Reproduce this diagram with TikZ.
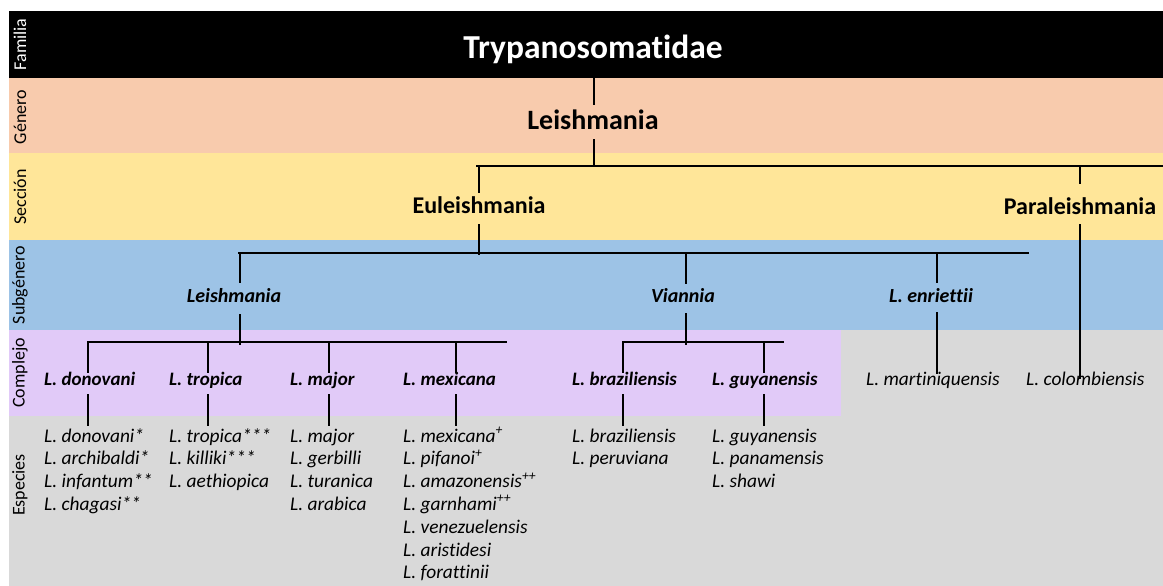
\documentclass[tikz,border=0pt]{standalone}
\usepackage{fontspec}
\setmainfont{Carlito}[Ligatures=NoCommon]
\definecolor{genc}{HTML}{F8CBAD}
\definecolor{secc}{HTML}{FFE699}
\definecolor{subc}{HTML}{9DC3E6}
\definecolor{comc}{HTML}{E1CAF8}
\definecolor{espc}{HTML}{D9D9D9}
\begin{document}
\begin{tikzpicture}[x=1pt,y=-1pt,
  tline/.style={line width=1.6pt, line cap=rect},
  side/.style={rotate=90, inner sep=0, font=\fontsize{18}{20}\selectfont},
  fam/.style={anchor=base, inner sep=0, text=white, font=\fontsize{33.5}{36}\selectfont\bfseries},
  gen/.style={anchor=base, inner sep=0, font=\fontsize{28}{32}\selectfont\bfseries},
  sec/.style={anchor=base, inner sep=0, font=\fontsize{24}{28}\selectfont\bfseries},
  sub/.style={anchor=base, inner sep=0, font=\fontsize{20}{24}\selectfont\bfseries\itshape},
  cx/.style={anchor=base west, inner sep=0, font=\fontsize{19}{22}\selectfont\bfseries\itshape},
  sp/.style={anchor=base west, inner sep=0, font=\fontsize{19.4}{22}\selectfont\itshape}]
\useasboundingbox (0,0) rectangle (1163,586);
\fill[white] (0,0) rectangle (1163,586);
% bands
\fill[black] (9,11) rectangle (1163,78);
\fill[genc] (9,78) rectangle (1163,153);
\fill[secc] (9,153) rectangle (1163,240);
\fill[subc] (9,240) rectangle (1163,330);
\fill[espc] (9,330) rectangle (1163,586);
\fill[comc] (9,330) rectangle (841,416);
% side labels
\node[side, text=white] (lfam) at (20,44.5) {Familia};
\node[side] (lgen) at (20,117) {Género};
\node[side] (lsec) at (20,197) {Sección};
\node[side] (lsub) at (20,285) {Subgénero};
\node[side] (lcom) at (20,373) {Complejo};
\node[side] (lesp) at (20,485) {Especies};
% taxa
\node[fam] (tryp) at (593,59) {Trypanosomatidae};
\node[gen] (leish) at (593,129) {Leishmania};
\node[sec] (eu) at (479,213) {Euleishmania};
\node[sec] (para) at (1080,214) {Paraleishmania};
\node[sub] (sleish) at (234,302) {Leishmania};
\node[sub] (vian) at (683,302) {Viannia};
\node[sub] (enr) at (931,302) {L. enriettii};
\node[cx] (cdon) at (44,385) {L. donovani};
\node[cx] (ctro) at (169,385) {L. tropica};
\node[cx] (cmaj) at (290,385) {L. major};
\node[cx] (cmex) at (403,385) {L. mexicana};
\node[cx] (cbra) at (572,385) {L. braziliensis};
\node[cx] (cguy) at (712,385) {L. guyanensis};
\node[sp] (mart) at (866,385) {L. martiniquensis};
\node[sp] (colo) at (1026,385) {L. colombiensis};
% species lists
\foreach \t [count=\i] in {L. donovani*, L. archibaldi*, L. infantum**, L. chagasi**}
  \node[sp] (don\i) at (44,{442+22.8*(\i-1)}) {\t};
\foreach \t [count=\i] in {L. tropica***, L. killiki***, L. aethiopica}
  \node[sp] (tro\i) at (169,{442+22.8*(\i-1)}) {\t};
\foreach \t [count=\i] in {L. major, L. gerbilli, L. turanica, L. arabica}
  \node[sp] (maj\i) at (290,{442+22.8*(\i-1)}) {\t};
\foreach \t [count=\i] in {L. mexicana\textsuperscript{+}, L. pifanoi\textsuperscript{+}, L. amazonensis\textsuperscript{++}, L. garnhami\textsuperscript{++}, L. venezuelensis, L. aristidesi, L. forattinii}
  \node[sp] (mex\i) at (403,{442+22.8*(\i-1)}) {\t};
\foreach \t [count=\i] in {L. braziliensis, L. peruviana}
  \node[sp] (bra\i) at (572,{442+22.8*(\i-1)}) {\t};
\foreach \t [count=\i] in {L. guyanensis, L. panamensis, L. shawi}
  \node[sp] (guy\i) at (712,{442+22.8*(\i-1)}) {\t};
% junction coordinates
\coordinate (g1) at (594,78);   \coordinate (g2) at (594,104);
\coordinate (g3) at (594,140);  \coordinate (g4) at (594,166);
\coordinate (sbL) at (477,166); \coordinate (sbR) at (1163,166);
\coordinate (e1) at (479,166);  \coordinate (e2) at (479,192);
\coordinate (e3) at (479,225);  \coordinate (e4) at (479,254);
\coordinate (p1) at (1080,166); \coordinate (p2) at (1080,183);
\coordinate (p3) at (1080,225); \coordinate (p4) at (1080,378);
\coordinate (ubL) at (239,253); \coordinate (ubR) at (1028,253);
\coordinate (l1) at (240,253);  \coordinate (l2) at (240,282);
\coordinate (l3) at (240,315);  \coordinate (l4) at (240,344);
\coordinate (v1) at (686,253);  \coordinate (v2) at (686,283);
\coordinate (v3) at (686,314);  \coordinate (v4) at (686,344);
\coordinate (n1) at (937,253);  \coordinate (n2) at (937,282);
\coordinate (n3) at (937,313);  \coordinate (n4) at (937,373);
\coordinate (cbL) at (88,342);  \coordinate (cbR) at (506,342);
\coordinate (vbL) at (623,342); \coordinate (vbR) at (783,342);
% connectors
\draw[tline] (g1) -- (g2);
\draw[tline] (g3) -- (g4);
\draw[tline] (sbL) -- (sbR);
\draw[tline] (e1) -- (e2);
\draw[tline] (e3) -- (e4);
\draw[tline] (p1) -- (p2);
\draw[tline] (p3) -- (p4);
\draw[tline] (ubL) -- (ubR);
\draw[tline] (l1) -- (l2);
\draw[tline] (l3) -- (l4);
\draw[tline] (v1) -- (v2);
\draw[tline] (v3) -- (v4);
\draw[tline] (n1) -- (n2);
\draw[tline] (n3) -- (n4);
\draw[tline] (cbL) -- (cbR);
\draw[tline] (vbL) -- (vbR);
\foreach \x/\n in {88/don,208/tro,329/maj,456/mex,623/bra,764/guy} {
  \coordinate (\n a) at (\x,342); \coordinate (\n b) at (\x,372);
  \coordinate (\n c) at (\x,395); \coordinate (\n d) at (\x,425);
  \draw[tline] (\n a) -- (\n b);
  \draw[tline] (\n c) -- (\n d);
}
\end{tikzpicture}
\end{document}
